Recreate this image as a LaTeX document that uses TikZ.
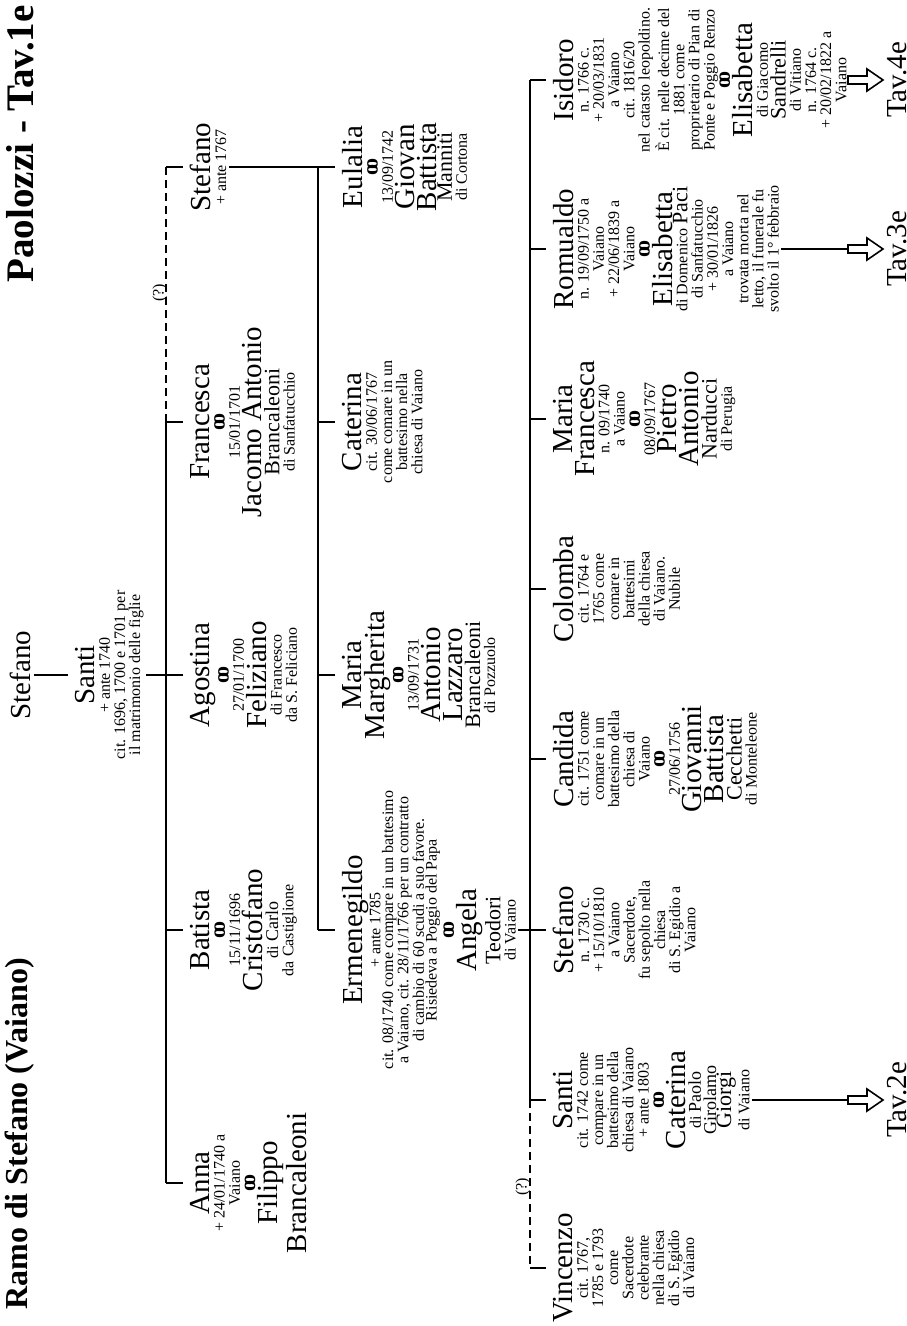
\documentclass[tikz,border=0pt]{standalone}
\usepackage{fontspec}
\setmainfont{Liberation Serif}
\newcommand{\fbase}{\fontsize{8}{7.6}\selectfont\lineskip=1.2pt\relax}
\newcommand{\ftight}{\fontsize{8}{6.4}\selectfont\lineskip=0.5pt\relax}
\newcommand{\fname}{\fontsize{14.5}{14}\selectfont}
\newcommand{\fsurn}{\fontsize{11}{11}\selectfont}
\newcommand{\fmid}{\fontsize{9}{9}\selectfont}
\newcommand{\fwed}{{\fontsize{11}{11}\selectfont\bfseries o\kern-.22em o}}
\tikzset{
  pers/.style={rotate=90,anchor=north,align=center,inner sep=1pt,font=\fbase},
  tav/.style={rotate=90,anchor=north,inner sep=1pt,font=\fname},
  link/.style={line width=0.9pt},
  tick/.style={link,shorten >=2.5pt},
  guess/.style={link,dash pattern=on 4pt off 2.5pt},
  hollow/.style={line width=0.8pt},
}
\begin{document}
\begin{tikzpicture}[x=0.5pt,y=-0.5pt]
\useasboundingbox (0,0) rectangle (906,1326);
%\draw[help lines,step=50] (0,0) grid (906,1326);
\node[rotate=90,anchor=north west,inner sep=1pt,font=\fontsize{16}{16}\selectfont\bfseries] (ramo) at (3,1312) {Ramo di Stefano (Vaiano)};
\node[rotate=90,anchor=north east,inner sep=1pt,font=\fontsize{19.5}{19.5}\selectfont\bfseries] (paol) at (4,3) {Paolozzi - Tav.1e};

\node[pers] (stefano0) at (8,675) {{\fname Stefano}};
\node[pers] (santi0) at (73,675) {{\fname Santi}\\+ ante 1740\\cit. 1696, 1700 e 1701 per\\il matrimonio delle figlie};

\node[pers] (anna) at (188,1183) {{\fname Anna}\\+ 24/01/1740 a\\Vaiano\\\fwed\\{\fname Filippo}\\{\fname Brancaleoni}};
\node[pers] (batista) at (188,930) {{\fname Batista}\\\fwed\\15/11/1696\\{\fname Cristofano}\\di {\fmid Carlo}\\da Castiglione};
\node[pers] (agostina) at (188,675) {{\fname Agostina}\\\fwed\\27/01/1700\\{\fname Feliziano}\\di Francesco\\da S. Feliciano};
\node[pers] (francesca) at (188,422) {{\fname Francesca}\\\fwed\\15/01/1701\\{\fname Jacomo Antonio}\\{\fsurn Brancaleoni}\\di Sanfatucchio};
\node[pers] (stefano1) at (188,167) {{\fname Stefano}\\+ ante 1767};

\node[pers,font=\ftight] (ermenegildo) at (340,930) {{\fname Ermenegildo}\\+ ante 1785\\cit. 08/1740 come compare in un battesimo\\a Vaiano, cit. 28/11/1766 per un contratto\\di cambio di 60 scudi a suo favore.\\Risiedeva a Poggio del Papa};
\node[pers] (angela) at (441,930) {\fwed\\{\fname Angela}\\{\fsurn Teodori}\\di Vaiano};
\node[pers] (mariamarg) at (340,675) {{\fname Maria}\\{\fname Margherita}\\\fwed\\13/09/1731\\{\fname Antonio}\\{\fname Lazzaro}\\{\fsurn Brancaleoni}\\di Pozzuolo};
\node[pers] (caterina1) at (340,422) {{\fname Caterina}\\cit. 30/06/1767\\come comare in un\\battesimo nella\\chiesa di Vaiano};
\node[pers] (eulalia) at (340,167) {{\fname Eulalia}\\\fwed\\13/09/1742\\{\fname Giovan}\\{\fname Battista}\\{\fsurn Manniti}\\di Cortona};

\node[pers] (vincenzo) at (551,1268) {{\fname Vincenzo}\\cit. 1767,\\1785 e 1793\\come\\Sacerdote\\celebrante\\nella chiesa\\di S. Egidio\\di Vaiano};
\node[pers] (santi3) at (551,1100) {{\fname Santi}\\cit. 1742 come\\compare in un\\battesimo della\\chiesa di Vaiano\\+ ante 1803\\\fwed\\{\fname Caterina}\\di {\fmid Paolo}\\{\fmid Girolamo}\\{\fsurn Giorgi}\\di Vaiano};
\node[pers] (stefano3) at (551,930) {{\fname Stefano}\\n. 1730 c.\\+ 15/10/1810\\a Vaiano\\Sacerdote,\\fu sepolto nella\\chiesa\\di S. Egidio a\\Vaiano};
\node[pers] (candida) at (551,759) {{\fname Candida}\\cit. 1751 come\\comare in un\\battesimo della\\chiesa di\\Vaiano\\\fwed\\27/06/1756\\{\fname Giovanni}\\{\fname Battista}\\{\fsurn Cecchetti}\\di Monteleone};
\node[pers] (colomba) at (551,589) {{\fname Colomba}\\cit. 1764 e\\1765 come\\comare in\\battesimi\\della chiesa\\di Vaiano.\\Nubile};
\node[pers] (mariafr) at (551,419) {{\fname Maria}\\{\fname Francesca}\\n. 09/1740\\a Vaiano\\\fwed\\08/09/1767\\{\fname Pietro}\\{\fname Antonio}\\{\fsurn Narducci}\\di Perugia};
\node[pers] (romualdo) at (551,249) {{\fname Romualdo}\\n. 19/09/1750 a\\Vaiano\\+ 22/06/1839 a\\Vaiano\\\fwed\\{\fname Elisabetta}\\di Domenico {\fsurn Paci}\\di Sanfatucchio\\+ 30/01/1826\\a Vaiano\\trovata morta nel\\letto, il funerale fu\\svolto il 1° febbraio};
\node[pers] (isidoro) at (551,80) {{\fname Isidoro}\\n. 1766 c.\\+ 20/03/1831\\a Vaiano\\cit. 1816/20\\nel catasto leopoldino.\\È cit. nelle decime del\\1881 come\\proprietario di Pian di\\Ponte e Poggio Renzo\\\fwed\\{\fname Elisabetta}\\di Giacomo\\{\fsurn Sandrelli}\\di Vitiano\\n. 1764 c.\\+ 20/02/1822 a\\Vaiano};

\node[pers] (q1) at (150,293) {(?)};
\node[pers] (q2) at (513,1187) {(?)};

\coordinate (sp1) at (166,0);
\coordinate (sp2) at (318,0);
\coordinate (sp3) at (530,0);

\draw[tick] (stefano0.south) -- (santi0.north);
\draw[tick] (santi0.south) -- (agostina.north);
\draw[link] (sp1 |- francesca.north) -- (sp1 |- anna.north);
\draw[guess] (sp1 |- stefano1.north) -- (sp1 |- francesca.north);
\draw[tick] (sp1 |- anna.north) -- (anna.north);
\draw[tick] (sp1 |- batista.north) -- (batista.north);
\draw[tick] (sp1 |- francesca.north) -- (francesca.north);
\draw[tick] (sp1 |- stefano1.north) -- (stefano1.north);

\draw[tick] (stefano1.south) -- (eulalia.north);
\draw[link] (sp2 |- eulalia.north) -- (sp2 |- ermenegildo.north);
\draw[tick] (sp2 |- caterina1.north) -- (caterina1.north);
\draw[tick] (sp2 |- mariamarg.north) -- (mariamarg.north);
\draw[tick] (sp2 |- ermenegildo.north) -- (ermenegildo.north);

\draw[tick] (angela.south) -- (stefano3.north);
\draw[link] (sp3 |- isidoro.north) -- (sp3 |- santi3.north);
\draw[guess] (sp3 |- santi3.north) -- (sp3 |- vincenzo.north);
\draw[tick] (sp3 |- vincenzo.north) -- (vincenzo.north);
\draw[tick] (sp3 |- santi3.north) -- (santi3.north);
\draw[tick] (sp3 |- candida.north) -- (candida.north);
\draw[tick] (sp3 |- colomba.north) -- (colomba.north);
\draw[tick] (sp3 |- mariafr.north) -- (mariafr.north);
\draw[tick] (sp3 |- romualdo.north) -- (romualdo.north);
\draw[tick] (sp3 |- isidoro.north) -- (isidoro.north);

\coordinate (a2) at (848,1100);
\coordinate (a3) at (848,249);
\coordinate (a4) at (848,80);
\draw[link] (santi3.south) -- (a2);
\draw[link] (romualdo.south) -- (a3);
\draw[link] (isidoro.south) -- (a4);
\draw[hollow] (a2) ++(0,-4) -- ++(19,0) -- ++(0,-7) -- ++(16,11) -- ++(-16,11) -- ++(0,-7) -- ++(-19,0) -- cycle;
\draw[hollow] (a3) ++(0,-4) -- ++(19,0) -- ++(0,-7) -- ++(16,11) -- ++(-16,11) -- ++(0,-7) -- ++(-19,0) -- cycle;
\draw[hollow] (a4) ++(0,-4) -- ++(19,0) -- ++(0,-7) -- ++(16,11) -- ++(-16,11) -- ++(0,-7) -- ++(-19,0) -- cycle;
\node[tav] (tav2) at (885,1100) {Tav.2e};
\node[tav] (tav3) at (885,249) {Tav.3e};
\node[tav] (tav4) at (885,80) {Tav.4e};
\end{tikzpicture}
\end{document}
